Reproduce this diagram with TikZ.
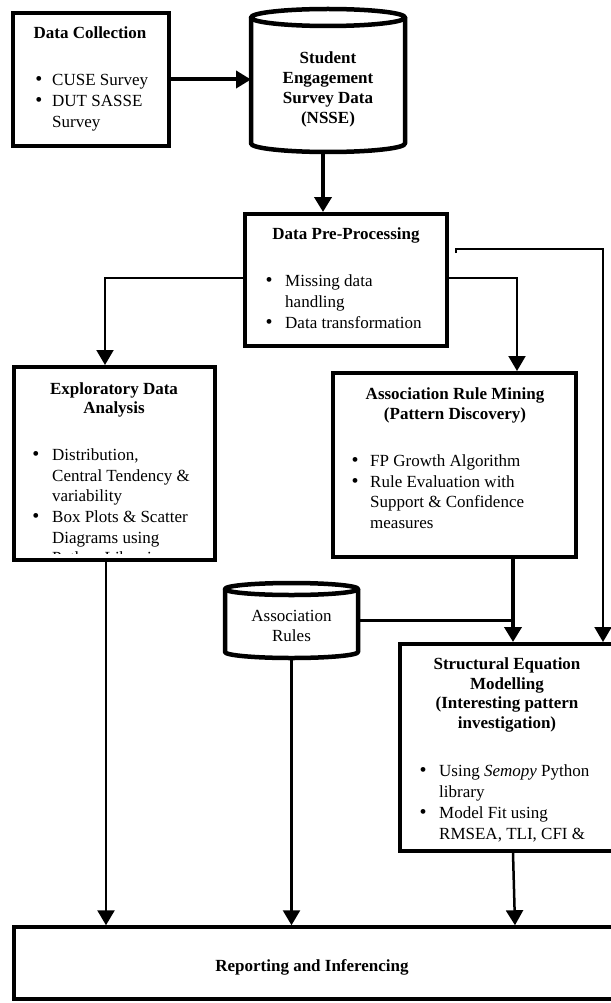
\documentclass[tikz,border=0pt]{standalone}
\usepackage{fontspec}
\setmainfont{Liberation Serif}
\usetikzlibrary{arrows.meta}
\begin{document}
\begin{tikzpicture}[x=1pt,y=-1pt,
  box/.style={draw, line width=4pt, rectangle, inner sep=0pt},
  ph/.style={rectangle, inner sep=0pt, outer sep=0pt},
  txt/.style={inner sep=0pt, font=\fontsize{17}{20}\selectfont},
  btxt/.style={inner sep=0pt, font=\fontsize{17}{20}\selectfont\bfseries},
  bul/.style={inner sep=0pt, font=\fontsize{20}{20}\selectfont},
  cylline/.style={line width=4.5pt, line join=round},
  arr/.style={-{Triangle[length=15pt,width=17pt]}},
  thickc/.style={line width=4pt},
  thinc/.style={line width=2pt},
  midc/.style={line width=2.5pt}]
\useasboundingbox (0,0) rectangle (610,1003);

% boxes
\node[box, minimum width=156pt, minimum height=133pt] (dc) at (91,79.5) {};
\node[box, minimum width=202pt, minimum height=132pt] (pre) at (346,280) {};
\node[box, minimum width=201pt, minimum height=193pt] (eda) at (114.5,463.5) {};
\node[box, minimum width=243pt, minimum height=184pt] (arm) at (454.5,465) {};
\node[box, minimum width=216pt, minimum height=207pt] (sem) at (508,747.5) {};
\node[box, line width=3.5pt, minimum width=600pt, minimum height=72pt] (rep) at (314,963) {};

% cylinders
\node[ph, minimum width=154pt, minimum height=143pt] (nsse) at (328,80.5) {};
\draw[cylline] (328,17.5) ellipse [x radius=77, y radius=8.5];
\draw[cylline] (251,17.5) -- (251,143.5) .. controls (251,148.2) and (285.5,152) .. (328,152) .. controls (370.5,152) and (405,148.2) .. (405,143.5) -- (405,17.5);

\node[ph, minimum width=133pt, minimum height=75pt] (ar) at (291.5,620.5) {};
\draw[cylline] (291.5,589) ellipse [x radius=66.5, y radius=6];
\draw[cylline] (225,589) -- (225,652) .. controls (225,655.3) and (254.8,658) .. (291.5,658) .. controls (328.2,658) and (358,655.3) .. (358,652) -- (358,589);

% connectors
\draw[thickc, arr] (dc.east) -- (dc.east -| nsse.west);
\coordinate (nssout) at ([xshift=-5pt]nsse.south);
\draw[thickc, arr] (nssout) -- (nssout |- pre.north);
\draw[thinc, arr] ([yshift=2pt]pre.west) -| ([xshift=-9.5pt]eda.north);
\draw[thinc, arr] ([yshift=2pt]pre.east) -| ([xshift=62.5pt]arm.north);
\coordinate (pretap) at (456,253);
\draw[thinc, arr] (pretap) -- (456,249) -| ([xshift=95pt]sem.north);
\coordinate (armout) at ([xshift=58.5pt]arm.south);
\draw[thickc, arr] (armout) -- (armout |- sem.north);
\draw[line width=3pt] (ar.east) -- (ar.east -| armout);
\coordinate (edaout) at ([xshift=-8.5pt]eda.south);
\draw[midc, arr] (edaout) -- (edaout |- rep.north);
\draw[midc, arr] (ar.south) -- (ar.south |- rep.north);
\coordinate (semout) at ([xshift=5pt]sem.south);
\draw[midc, arr] (semout) -- ([xshift=2pt]semout |- rep.north);

% Data Collection
\node[btxt, anchor=base] (dcT) at (90,39) {Data Collection};
\node[bul, anchor=base] (dcB1) at (39,86) {\textbullet};
\node[txt, anchor=base west] (dcL1) at (52,86) {CUSE Survey};
\node[bul, anchor=base] (dcB2) at (39,107) {\textbullet};
\node[txt, anchor=base west] (dcL2) at (52,107) {DUT SASSE};
\node[txt, anchor=base west] (dcL3) at (52,128) {Survey};

% NSSE
\node[btxt, anchor=base] (nsT1) at (328,64) {Student};
\node[btxt, anchor=base] (nsT2) at (328,84) {Engagement};
\node[btxt, anchor=base] (nsT3) at (328,104) {Survey Data};
\node[btxt, anchor=base] (nsT4) at (328,124) {(NSSE)};

% Pre-processing
\node[btxt, anchor=base] (preT) at (346,239) {Data Pre-Processing};
\node[bul, anchor=base] (preB1) at (269,286) {\textbullet};
\node[txt, anchor=base west] (preL1) at (285,286) {Missing data};
\node[txt, anchor=base west] (preL2) at (285,307) {handling};
\node[bul, anchor=base] (preB2) at (269,328) {\textbullet};
\node[txt, anchor=base west] (preL3) at (285,328) {Data transformation};

% EDA
\node[btxt, anchor=base] (edaT1) at (114,394.5) {Exploratory Data};
\node[btxt, anchor=base] (edaT2) at (114,413.5) {Analysis};
\node[bul, anchor=base] (edaB1) at (36,460.5) {\textbullet};
\node[txt, anchor=base west] (edaL1) at (52,460.5) {Distribution,};
\node[txt, anchor=base west] (edaL2) at (52,481) {Central Tendency \&};
\node[txt, anchor=base west] (edaL3) at (52,501.5) {variability};
\node[bul, anchor=base] (edaB2) at (36,522.5) {\textbullet};
\node[txt, anchor=base west] (edaL4) at (52,522.5) {Box Plots \& Scatter};
\node[txt, anchor=base west] (edaL5) at (52,543) {Diagrams using};
\begin{scope}
\clip (16,545) rectangle (213,553.5);
\node[txt, anchor=base west] (edaL6) at (52,563.5) {Python Libraries};
\end{scope}

% ARM
\node[btxt, anchor=base] (armT1) at (455,399.5) {Association Rule Mining};
\node[btxt, anchor=base] (armT2) at (455,419.5) {(Pattern Discovery)};
\node[bul, anchor=base] (armB1) at (355,466.5) {\textbullet};
\node[txt, anchor=base west] (armL1) at (370,466.5) {FP Growth Algorithm};
\node[bul, anchor=base] (armB2) at (355,487) {\textbullet};
\node[txt, anchor=base west] (armL2) at (370,487) {Rule Evaluation with};
\node[txt, anchor=base west] (armL3) at (370,507.5) {Support \& Confidence};
\node[txt, anchor=base west] (armL4) at (370,528) {measures};

% Association Rules
\node[txt, anchor=base] (arT1) at (291.5,621.5) {Association};
\node[txt, anchor=base] (arT2) at (291.5,641.5) {Rules};

% SEM
\node[btxt, anchor=base] (semT1) at (507,669.5) {Structural Equation};
\node[btxt, anchor=base] (semT2) at (507,689) {Modelling};
\node[btxt, anchor=base] (semT3) at (507,708.5) {(Interesting pattern};
\node[btxt, anchor=base] (semT4) at (507,728) {investigation)};
\node[bul, anchor=base] (semB1) at (423,776.5) {\textbullet};
\node[txt, anchor=base west] (semL1) at (439,776.5) {Using \textit{Semopy} Python};
\node[txt, anchor=base west] (semL2) at (439,797) {library};
\node[bul, anchor=base] (semB2) at (423,818) {\textbullet};
\node[txt, anchor=base west] (semL3) at (439,818) {Model Fit using};
\node[txt, anchor=base west] (semL4) at (439,839) {RMSEA, TLI, CFI \&};

% Reporting
\node[btxt, anchor=base] (repT) at (312,971.5) {Reporting and Inferencing};
\end{tikzpicture}
\end{document}
